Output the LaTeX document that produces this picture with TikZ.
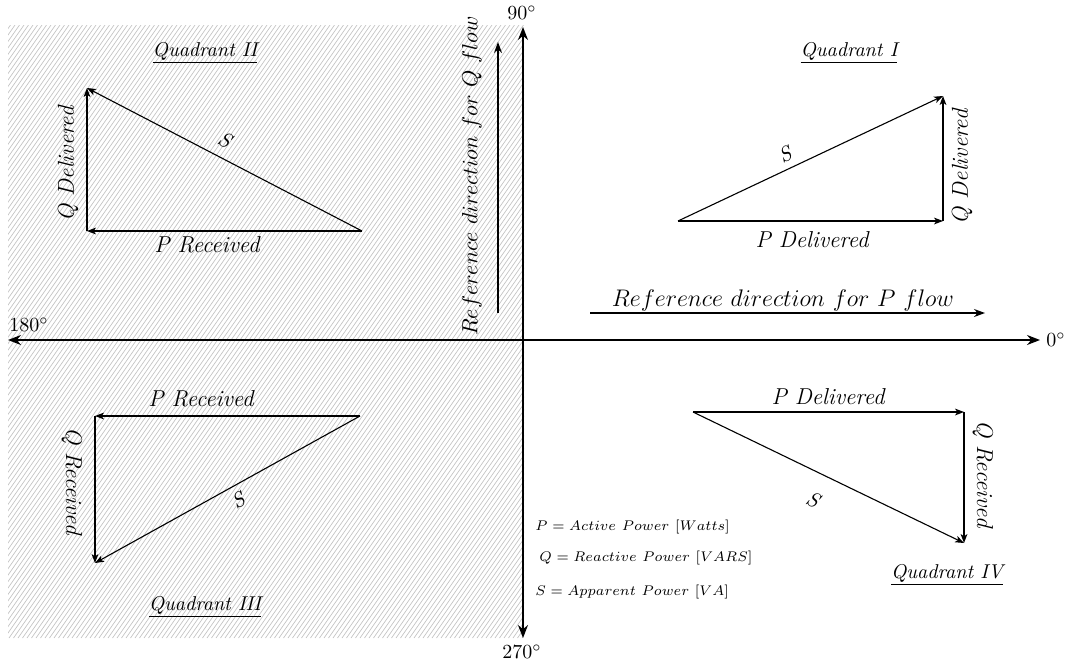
\documentclass[tikz,border=0pt]{standalone}
\usetikzlibrary{arrows.meta}
\begin{document}
\begin{tikzpicture}[x=0.5pt,y=-0.5pt,
  axis/.style={line width=0.75pt,{Stealth[length=6.5pt,width=5pt]}-{Stealth[length=6.5pt,width=5pt]}},
  vec/.style={line width=0.55pt,-{Stealth[length=4.5pt,width=3.4pt,inset=1.2pt]}},
  reflow/.style={line width=0.6pt,-{Stealth[length=5.5pt,width=4pt]}},
  side/.style={font=\fontsize{11.5}{13}\selectfont\itshape,inner sep=0pt},
  slab/.style={font=\fontsize{10.5}{12}\selectfont\itshape,inner sep=0pt},
  quad/.style={font=\fontsize{10}{12}\selectfont\itshape,inner sep=0pt},
  deg/.style={font=\normalsize,inner sep=0pt},
  reftext/.style={font=\fontsize{12}{14}\selectfont,inner sep=0pt},
  legend/.style={font=\fontsize{7.4}{9}\selectfont,inner sep=0pt,anchor=west},
  hatch/.style={black!24,line width=0.33pt}]
\useasboundingbox (0,0) rectangle (1070,665);
% hatched left half
\begin{scope}
\clip (8,25) rectangle (524,638);
\foreach \i in {-432,-427.5,...,524} \draw[hatch] (\i,638) -- ++(429,-613);
\end{scope}
% axes
\coordinate (W) at (8,340);
\coordinate (E) at (1040,340);
\coordinate (N) at (523,27);
\coordinate (Sd) at (523,638);
\draw[axis] (W) -- (E);
\draw[axis] (Sd) -- (N);
\node[deg] (d0) at (1056,340) {$0^\circ$};
\node[deg] (d90) at (522,13) {$90^\circ$};
\node[deg] (d180) at (29,325) {$180^\circ$};
\node[deg] (d270) at (522,652) {$270^\circ$};
% reference directions
\coordinate (qr1) at (498,313);
\coordinate (qr2) at (498,42);
\coordinate (pr1) at (590,313);
\coordinate (pr2) at (985,313);
\draw[reflow] (qr1) -- (qr2);
\draw[reflow] (pr1) -- (pr2);
\node[reftext,font=\fontsize{11.2}{13}\selectfont,rotate=90] (qrl) at (472,176) {$Reference\ direction\ for\ Q\ flow$};
\node[reftext] (prl) at (783,300) {$Reference\ direction\ for\ P\ flow$};
% Quadrant I
\coordinate (a1) at (678,221);
\coordinate (b1) at (943,221);
\coordinate (c1) at (943,96);
\draw[vec] (a1) -- (b1);
\draw[vec] (b1) -- (c1);
\draw[vec] (a1) -- (c1);
\node[side] (p1) at (812,240) {P Delivered};
\node[side,rotate=90] (q1) at (962,167) {Q Delivered};
\node[slab,rotate=25] (s1) at (785,155) {S};
\node[quad] (t1) at (849,53) {\underline{Quadrant I}};
% Quadrant II
\coordinate (a2) at (362,231);
\coordinate (b2) at (87,231);
\coordinate (c2) at (87,88);
\draw[vec] (a2) -- (b2);
\draw[vec] (b2) -- (c2);
\draw[vec] (a2) -- (c2);
\node[side] (p2) at (207,245) {P Received};
\node[side,rotate=90] (q2) at (68,164) {Q Delivered};
\node[slab,rotate=-27.5] (s2) at (225,140) {S};
\node[quad] (t2) at (205,53) {\underline{Quadrant II}};
% Quadrant III
\coordinate (a3) at (360,416);
\coordinate (b3) at (95,416);
\coordinate (c3) at (95,563);
\draw[vec] (a3) -- (b3);
\draw[vec] (b3) -- (c3);
\draw[vec] (a3) -- (c3);
\node[side] (p3) at (201,399) {P Received};
\node[side,rotate=-90] (q3) at (72,481) {Q Received};
\node[slab,rotate=29] (s3) at (238,500) {S};
\node[quad] (t3) at (205,607) {\underline{Quadrant III}};
% Quadrant IV
\coordinate (a4) at (693,412);
\coordinate (b4) at (964,412);
\coordinate (c4) at (964,543);
\draw[vec] (a4) -- (b4);
\draw[vec] (b4) -- (c4);
\draw[vec] (a4) -- (c4);
\node[side] (p4) at (828,397) {P Delivered};
\node[side,rotate=-90] (q4) at (983,474) {Q Received};
\node[slab,rotate=-26] (s4) at (813,500) {S};
\node[quad] (t4) at (947,575) {\underline{Quadrant IV}};
% legend
\node[legend] (l1) at (535,527) {$P = Active\ Power\ [Watts]$};
\node[legend] (l2) at (539,558) {$Q = Reactive\ Power\ [VARS]$};
\node[legend] (l3) at (535,592) {$S = Apparent\ Power\ [VA]$};
\end{tikzpicture}
\end{document}
